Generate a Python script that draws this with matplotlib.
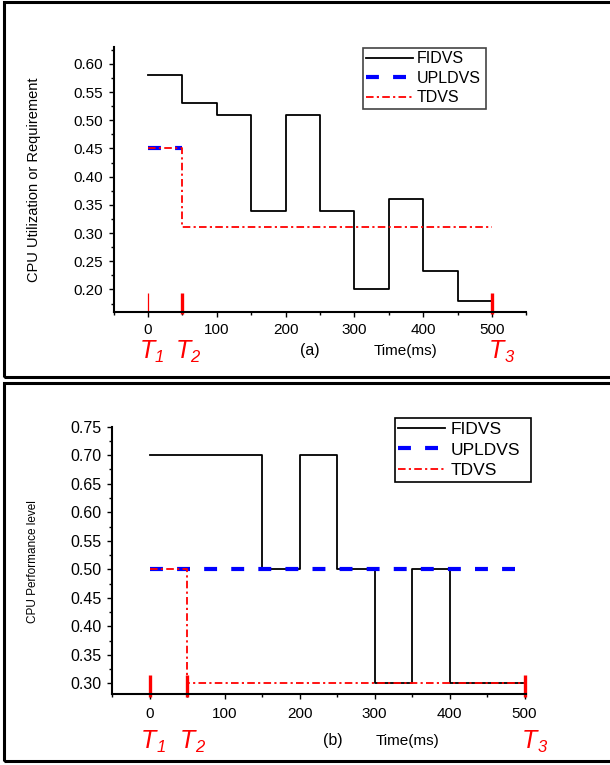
import numpy as np
import matplotlib.pyplot as plt
import matplotlib.transforms as mtrans
from matplotlib.ticker import FixedLocator

plt.rcParams['font.family'] = ['Liberation Sans', 'DejaVu Sans']

# ---- data, panel (a) : CPU utilization / requirement
fid_a_t = [0, 50, 100, 150, 200, 250, 300, 350, 400, 450, 500]
fid_a_v = [0.58, 0.53, 0.51, 0.34, 0.51, 0.34, 0.20, 0.36, 0.232, 0.18, 0.18]
upl_a_t = [0, 50]
upl_a_v = [0.45, 0.45]
tdv_a_t = [0, 50, 500]
tdv_a_v = [0.45, 0.31, 0.31]

# ---- data, panel (b) : CPU performance level
fid_b_t = [0, 150, 200, 250, 300, 350, 400, 500]
fid_b_v = [0.70, 0.50, 0.70, 0.50, 0.30, 0.50, 0.30, 0.30]
upl_b_t = [0, 488]
upl_b_v = [0.50, 0.50]
tdv_b_t = [0, 50, 500]
tdv_b_v = [0.50, 0.30, 0.30]

# time instants T1, T2, T3
t_marks = [0, 50, 500]
t_subs = ['1', '2', '3']
t_top_a = 0.194
t_top_b = 0.314

W, H = 610, 765
fig = plt.figure(figsize=(W / 100, H / 100), dpi=100)


def fx(px):
    return px / W


def fy(py):
    return 1 - py / H


# panel frames
fig.add_artist(plt.Rectangle((fx(4), fy(377)), 1.0, (377 - 2) / H, transform=fig.transFigure,
                             fill=False, lw=2.2, ec='black', clip_on=False))
fig.add_artist(plt.Rectangle((fx(4), fy(761)), 1.0, (761 - 383) / H, transform=fig.transFigure,
                             fill=False, lw=2.2, ec='black', clip_on=False))

ax1 = fig.add_axes([fx(113.6), fy(312), fx(526.4) - fx(113.6), fy(47) - fy(312)])
ax2 = fig.add_axes([fx(112), fy(694.3), fx(526) - fx(112), fy(426.7) - fy(694.3)])

dash_blue = (3.1, 3.4)
dashdot_red = (4.2, 1.8, 1.2, 1.8)

# panel (a)
ax1.plot(fid_a_t, fid_a_v, drawstyle='steps-post', color='black', lw=1.3, label='FIDVS')
ax1.plot(upl_a_t, upl_a_v, color='blue', lw=3.0, dashes=dash_blue, label='UPLDVS')
ax1.plot(tdv_a_t, tdv_a_v, drawstyle='steps-post', color='red', lw=1.3, dashes=dashdot_red, label='TDVS')
ax1.set_xlim(-50, 550)
ax1.set_ylim(0.16, 0.63)
ax1.vlines(t_marks[0], 0.16, t_top_a, color='red', lw=0.9, clip_on=False)
ax1.vlines(t_marks[1:], 0.157, t_top_a, color='red', lw=2.4, clip_on=False)
ax1.xaxis.set_major_locator(FixedLocator([0, 100, 200, 300, 400, 500]))
ax1.xaxis.set_minor_locator(FixedLocator([-50, 50, 150, 250, 350, 450, 550]))
ax1.yaxis.set_major_locator(FixedLocator(np.round(np.arange(0.20, 0.601, 0.05), 2)))
ax1.yaxis.set_minor_locator(FixedLocator(np.round(np.arange(0.175, 0.63, 0.05), 3)))
ax1.yaxis.set_major_formatter(plt.FormatStrFormatter('%.2f'))
ax1.set_ylabel('CPU Utilization or Requirement', fontsize=10.5)
ax1.yaxis.set_label_coords(-0.177, 0.498)
leg1 = ax1.legend(loc='upper left', bbox_to_anchor=(fx(363), fy(49), fx(486) - fx(363), 0.001),
                  bbox_transform=fig.transFigure, mode='expand', borderaxespad=0,
                  fontsize=11.5, handlelength=2.9, handletextpad=0.25, labelspacing=0.28,
                  borderpad=0.2, fancybox=False, framealpha=1)
leg1.get_frame().set_edgecolor('#444444')
leg1.get_frame().set_linewidth(1.2)

# panel (b)
ax2.plot(fid_b_t, fid_b_v, drawstyle='steps-post', color='black', lw=1.3, label='FIDVS')
ax2.plot(upl_b_t, upl_b_v, color='blue', lw=3.0, dashes=dash_blue, label='UPLDVS')
ax2.plot(tdv_b_t, tdv_b_v, drawstyle='steps-post', color='red', lw=1.3, dashes=dashdot_red, label='TDVS')
ax2.set_xlim(-50, 502)
ax2.set_ylim(0.281, 0.75)
ax2.vlines(t_marks, 0.277, t_top_b, color='red', lw=2.4, clip_on=False)
ax2.xaxis.set_major_locator(FixedLocator([0, 100, 200, 300, 400, 500]))
ax2.xaxis.set_minor_locator(FixedLocator([-50, 50, 150, 250, 350, 450]))
ax2.yaxis.set_major_locator(FixedLocator(np.round(np.arange(0.30, 0.751, 0.05), 2)))
ax2.yaxis.set_minor_locator(FixedLocator(np.round(np.arange(0.325, 0.75, 0.05), 3)))
ax2.yaxis.set_major_formatter(plt.FormatStrFormatter('%.2f'))
ax2.set_ylabel('CPU Performance level', fontsize=8.5)
ax2.yaxis.set_label_coords(-0.177, 0.496)
leg2 = ax2.legend(loc='upper left', bbox_to_anchor=(fx(395), fy(419), fx(531) - fx(395), 0.001),
                  bbox_transform=fig.transFigure, mode='expand', borderaxespad=0,
                  fontsize=12.5, handlelength=2.7, handletextpad=0.3, labelspacing=0.32,
                  borderpad=0.2, fancybox=False, framealpha=1)
leg2.get_frame().set_edgecolor('black')
leg2.get_frame().set_linewidth(1.2)

for ax, fs, pad in [(ax1, 11, 4.5), (ax2, 11.5, 6)]:
    ax.spines['top'].set_visible(False)
    ax.spines['right'].set_visible(False)
    ax.spines['left'].set_linewidth(1.5)
    ax.spines['bottom'].set_linewidth(1.5)
    ax.tick_params(which='major', direction='out', length=3.5, width=1.0)
    ax.tick_params(which='minor', direction='out', length=2.0, width=1.0)
    ax.tick_params(axis='y', labelsize=fs, pad=4)
    ax.tick_params(axis='x', labelsize=11, pad=pad)

# T labels and captions under the axes
for ax, ty, cap, cap_x, time_x in [(ax1, 351, '(a)', 310, 405), (ax2, 741, '(b)', 333, 407)]:
    tr = mtrans.blended_transform_factory(ax.transData, fig.transFigure)
    t_tr = mtrans.offset_copy(tr, fig=fig, x=5, y=0, units='points')
    sub_tr = mtrans.offset_copy(tr, fig=fig, x=4.8, y=-5, units='points')
    for t, sub, dx in zip(t_marks, t_subs, [0, 2, 8]):
        ax.text(t + dx, fy(ty), 'T', transform=t_tr, color='red', fontsize=18, style='italic',
                ha='right', va='center')
        ax.text(t + dx, fy(ty), sub, transform=sub_tr, color='red', fontsize=12, style='italic',
                ha='left', va='center')
    fig.text(fx(cap_x), fy(ty), cap, fontsize=11.5, ha='center', va='center')
    fig.text(fx(time_x), fy(ty), 'Time(ms)', fontsize=11, ha='center', va='center')

plt.savefig('out.png', dpi=100)
